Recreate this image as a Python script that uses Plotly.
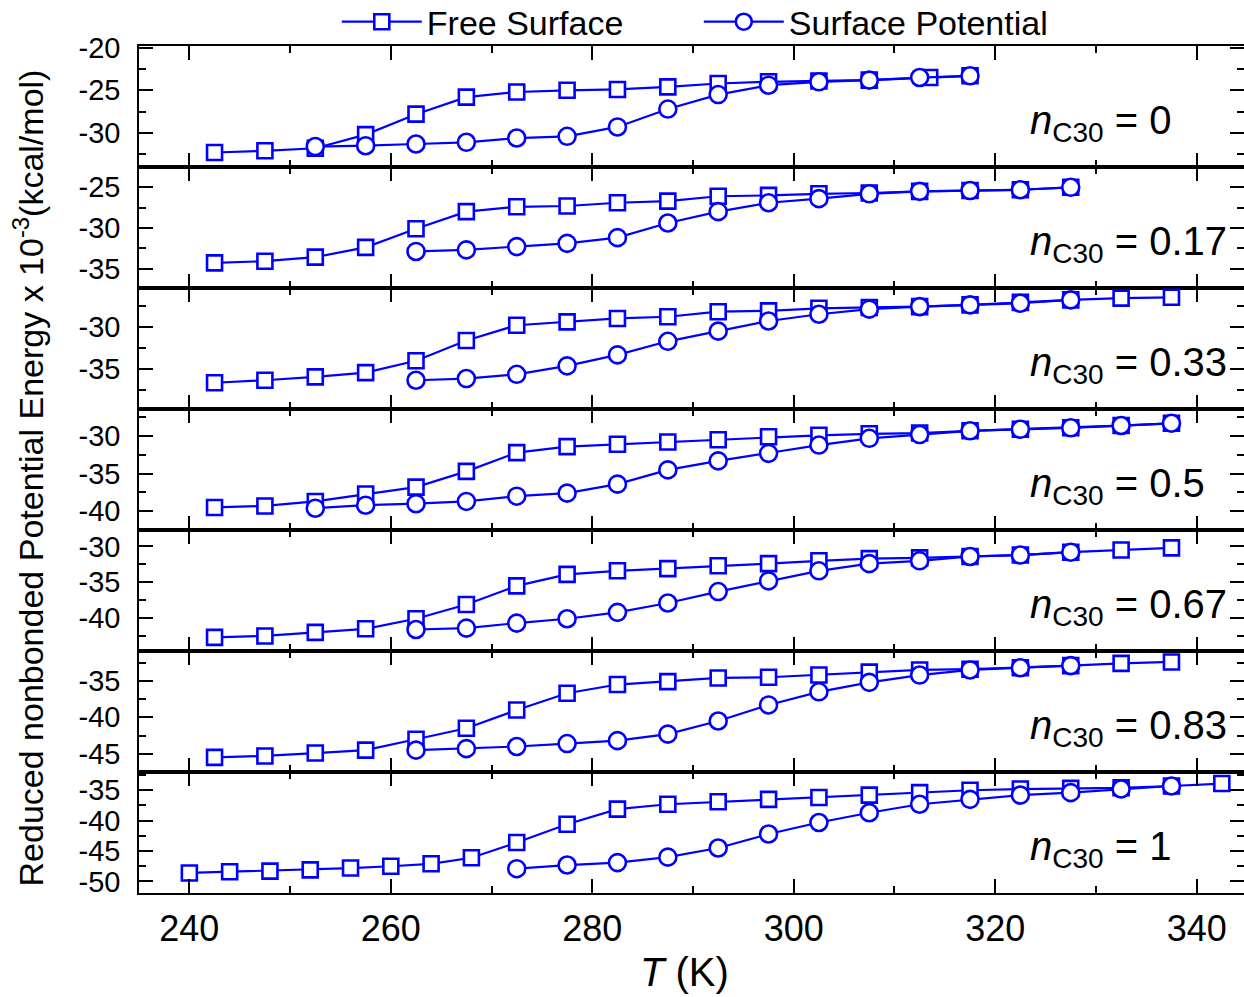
import plotly.graph_objects as go
from plotly.subplots import make_subplots

# Reduced nonbonded potential energy (x10^-3 kcal/mol) vs temperature (K)
panel_labels = ["0", "0.17", "0.33", "0.5", "0.67", "0.83", "1"]

# n_C30 = 0
fs_t_0 = [242.5, 247.5, 252.5, 257.5, 262.5, 267.5, 272.5, 277.5, 282.5, 287.5,
          292.5, 297.5, 302.5, 307.5, 313.5, 317.5]
fs_e_0 = [-32.3, -32.1, -31.8, -30.2, -27.8, -25.8, -25.2, -25.0, -24.9, -24.6,
          -24.2, -24.0, -23.9, -23.8, -23.5, -23.3]
sp_t_0 = [252.5, 257.5, 262.5, 267.5, 272.5, 277.5, 282.5, 287.5, 292.5, 297.5,
          302.5, 307.5, 312.5, 317.5]
sp_e_0 = [-31.6, -31.5, -31.3, -31.1, -30.6, -30.4, -29.3, -27.2, -25.5, -24.4,
          -24.0, -23.8, -23.5, -23.3]

# n_C30 = 0.17
fs_t_1 = [242.5, 247.5, 252.5, 257.5, 262.5, 267.5, 272.5, 277.5, 282.5, 287.5,
          292.5, 297.5, 302.5, 307.5, 312.5, 317.5, 322.5, 327.5]
fs_e_1 = [-34.3, -34.1, -33.6, -32.4, -30.1, -28.0, -27.4, -27.3, -26.9, -26.7,
          -26.1, -26.0, -25.8, -25.7, -25.5, -25.4, -25.3, -25.0]
sp_t_1 = [262.5, 267.5, 272.5, 277.5, 282.5, 287.5, 292.5, 297.5, 302.5, 307.5,
          312.5, 317.5, 322.5, 327.5]
sp_e_1 = [-32.9, -32.7, -32.3, -31.9, -31.2, -29.4, -28.0, -26.9, -26.4, -25.8,
          -25.5, -25.4, -25.3, -25.0]

# n_C30 = 0.33
fs_t_2 = [242.5, 247.5, 252.5, 257.5, 262.5, 267.5, 272.5, 277.5, 282.5, 287.5,
          292.5, 297.5, 302.5, 307.5, 312.5, 317.5, 322.5, 327.5, 332.5, 337.5]
fs_e_2 = [-36.6, -36.3, -35.9, -35.4, -34.0, -31.6, -29.8, -29.4, -29.0, -28.8,
          -28.2, -28.1, -27.8, -27.7, -27.6, -27.4, -27.1, -26.8, -26.6, -26.5]
sp_t_2 = [262.5, 267.5, 272.5, 277.5, 282.5, 287.5, 292.5, 297.5, 302.5, 307.5,
          312.5, 317.5, 322.5, 327.5]
sp_e_2 = [-36.3, -36.1, -35.6, -34.6, -33.3, -31.7, -30.5, -29.3, -28.5, -27.9,
          -27.6, -27.4, -27.2, -26.8]

# n_C30 = 0.5
fs_t_3 = [242.5, 247.5, 252.5, 257.5, 262.5, 267.5, 272.5, 277.5, 282.5, 287.5,
          292.5, 297.5, 302.5, 307.5, 312.5, 317.5, 322.5, 327.5, 332.5, 337.5]
fs_e_3 = [-39.5, -39.3, -38.7, -37.7, -36.8, -34.7, -32.2, -31.4, -31.1, -30.8,
          -30.5, -30.1, -29.9, -29.7, -29.6, -29.3, -29.1, -28.9, -28.6, -28.3]
sp_t_3 = [252.5, 257.5, 262.5, 267.5, 272.5, 277.5, 282.5, 287.5, 292.5, 297.5,
          302.5, 307.5, 312.5, 317.5, 322.5, 327.5, 332.5, 337.5]
sp_e_3 = [-39.6, -39.2, -39.0, -38.7, -38.0, -37.6, -36.4, -34.5, -33.3, -32.3,
          -31.2, -30.3, -29.8, -29.3, -29.1, -28.9, -28.6, -28.3]

# n_C30 = 0.67
fs_t_4 = [242.5, 247.5, 252.5, 257.5, 262.5, 267.5, 272.5, 277.5, 282.5, 287.5,
          292.5, 297.5, 302.5, 307.5, 312.5, 317.5, 322.5, 327.5, 332.5, 337.5]
fs_e_4 = [-42.7, -42.5, -42.0, -41.5, -40.1, -38.1, -35.5, -33.9, -33.4, -33.1,
          -32.7, -32.4, -32.0, -31.7, -31.6, -31.4, -31.2, -30.8, -30.5, -30.2]
sp_t_4 = [262.5, 267.5, 272.5, 277.5, 282.5, 287.5, 292.5, 297.5, 302.5, 307.5,
          312.5, 317.5, 322.5, 327.5]
sp_e_4 = [-41.6, -41.4, -40.7, -40.1, -39.2, -37.9, -36.3, -34.8, -33.4, -32.4,
          -32.0, -31.4, -31.2, -30.8]

# n_C30 = 0.83
fs_t_5 = [242.5, 247.5, 252.5, 257.5, 262.5, 267.5, 272.5, 277.5, 282.5, 287.5,
          292.5, 297.5, 302.5, 307.5, 312.5, 317.5, 322.5, 327.5, 332.5, 337.5]
fs_e_5 = [-45.5, -45.3, -44.9, -44.5, -43.0, -41.5, -39.0, -36.7, -35.5, -35.1,
          -34.6, -34.5, -34.2, -33.8, -33.5, -33.4, -33.2, -32.9, -32.6, -32.4]
sp_t_5 = [262.5, 267.5, 272.5, 277.5, 282.5, 287.5, 292.5, 297.5, 302.5, 307.5,
          312.5, 317.5, 322.5, 327.5]
sp_e_5 = [-44.5, -44.3, -44.0, -43.6, -43.2, -42.3, -40.5, -38.3, -36.5, -35.2,
          -34.2, -33.5, -33.2, -32.9]

# n_C30 = 1
fs_t_6 = [240, 244, 248, 252, 256, 260, 264, 268, 272.5, 277.5, 282.5, 287.5,
          292.5, 297.5, 302.5, 307.5, 312.5, 317.5, 322.5, 327.5, 332.5, 337.5, 342.5]
fs_e_6 = [-48.6, -48.4, -48.3, -48.1, -47.8, -47.5, -47.1, -46.1, -43.6, -40.6,
          -38.1, -37.3, -36.9, -36.5, -36.2, -35.8, -35.4, -35.0, -34.8, -34.7,
          -34.6, -34.3, -33.9]
sp_t_6 = [272.5, 277.5, 282.5, 287.5, 292.5, 297.5, 302.5, 307.5, 312.5, 317.5,
          322.5, 327.5, 332.5, 337.5]
sp_e_6 = [-47.9, -47.3, -46.9, -46.0, -44.5, -42.2, -40.3, -38.7, -37.3, -36.5,
          -35.8, -35.4, -34.8, -34.3]

fs_t = [fs_t_0, fs_t_1, fs_t_2, fs_t_3, fs_t_4, fs_t_5, fs_t_6]
fs_e = [fs_e_0, fs_e_1, fs_e_2, fs_e_3, fs_e_4, fs_e_5, fs_e_6]
sp_t = [sp_t_0, sp_t_1, sp_t_2, sp_t_3, sp_t_4, sp_t_5, sp_t_6]
sp_e = [sp_e_0, sp_e_1, sp_e_2, sp_e_3, sp_e_4, sp_e_5, sp_e_6]

# y ranges and labelled ticks of the stacked panels
y_ranges = [[-34.0, -19.8], [-37.4, -22.5], [-39.7, -25.4], [-42.5, -26.4],
            [-44.6, -27.7], [-47.5, -30.9], [-51.9, -32.0]]
y_ticks = [[-20, -25, -30], [-25, -30, -35], [-30, -35], [-30, -35, -40],
           [-30, -35, -40], [-35, -40, -45], [-35, -40, -45, -50]]

BLUE = "#0000FF"
FONT = "Liberation Sans, Arial, sans-serif"

fig = make_subplots(rows=7, cols=1, shared_xaxes=True, vertical_spacing=0)

for i in range(7):
    row = i + 1
    fig.add_trace(go.Scatter(
        x=fs_t[i], y=fs_e[i], mode="lines+markers", name="Free Surface",
        showlegend=(i == 0), legendgroup="fs",
        line=dict(color=BLUE, width=2.2),
        marker=dict(symbol="square", size=15, color="white",
                    line=dict(color=BLUE, width=2.6)),
    ), row=row, col=1)
    fig.add_trace(go.Scatter(
        x=sp_t[i], y=sp_e[i], mode="lines+markers", name="Surface Potential",
        showlegend=(i == 0), legendgroup="sp",
        line=dict(color=BLUE, width=2.2),
        marker=dict(symbol="circle", size=17, color="white",
                    line=dict(color=BLUE, width=2.6)),
    ), row=row, col=1)

    fig.update_yaxes(
        range=y_ranges[i], tickmode="array", tickvals=y_ticks[i],
        ticktext=[str(v) for v in y_ticks[i]],
        showline=True, linecolor="black", linewidth=1.6, mirror="allticks",
        ticks="inside", ticklen=14, tickwidth=2, tickcolor="black",
        minor=dict(tickmode="linear", ticks="inside", ticklen=7, tickwidth=2,
                   tickcolor="black", dtick=2.5, tick0=0),
        showgrid=False, zeroline=False,
        tickfont=dict(family=FONT, size=29, color="black"),
        ticklabelstandoff=11,
        row=row, col=1)
    fig.update_xaxes(
        range=[235, 344.7], dtick=20, tick0=240,
        showline=True, linecolor="black", linewidth=1.6, mirror="allticks",
        ticks="inside", ticklen=14, tickwidth=2, tickcolor="black",
        minor=dict(ticks="inside", ticklen=7, tickwidth=2, tickcolor="black", dtick=10, tick0=240),
        showgrid=False, zeroline=False,
        showticklabels=(i == 6),
        tickfont=dict(family=FONT, size=36, color="black"),
        ticklabelstandoff=3,
        row=row, col=1)

    fig.add_annotation(
        text=f"<i>n</i><sub>C30</sub> = {panel_labels[i]}",
        xref="paper", x=0.8045, xanchor="left",
        yref=f"y{'' if row == 1 else row} domain", y=0.36, yanchor="middle",
        showarrow=False, font=dict(family=FONT, size=40, color="black"))

fig.add_annotation(
    text="Reduced nonbonded Potential Energy x 10<sup>-3</sup>(kcal/mol)",
    xref="paper", yref="paper", x=-0.1, y=0.49, textangle=-90,
    xanchor="center", yanchor="middle", showarrow=False,
    font=dict(family=FONT, size=34, color="black"))

fig.add_annotation(
    text="<i>T</i> (K)", xref="paper", yref="paper", x=0.494, y=-0.093,
    xanchor="center", yanchor="middle", showarrow=False,
    font=dict(family=FONT, size=40, color="black"))

fig.update_layout(
    width=1244, height=997,
    margin=dict(l=139, r=0, t=46, b=104, autoexpand=False),
    plot_bgcolor="white", paper_bgcolor="white",
    legend=dict(orientation="h", xref="paper", yref="paper",
                x=0.179, y=0.994, xanchor="left", yanchor="bottom",
                font=dict(family=FONT, size=34, color="black"),
                entrywidth=267, itemwidth=80, bgcolor="rgba(0,0,0,0)",
                tracegroupgap=0),
)

fig.write_html("out.html")
